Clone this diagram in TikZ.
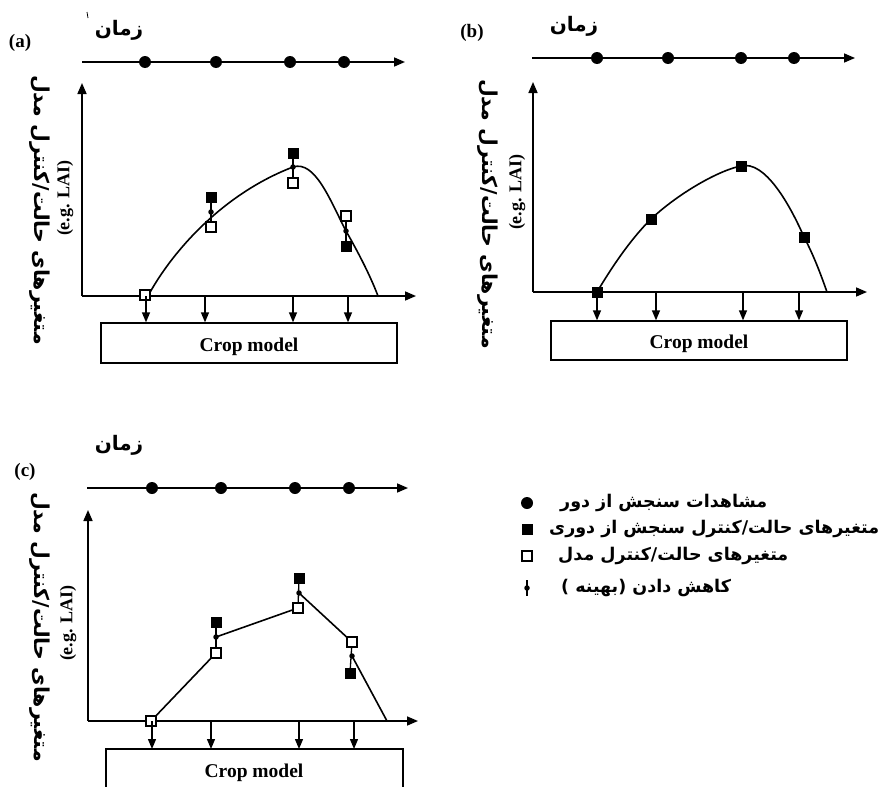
\documentclass[tikz,border=0pt]{standalone}
\usepackage{fontspec}
\setmainfont{Liberation Serif}
\newfontfamily\fa[Script=Arabic]{DejaVu Sans}
\TeXXeTstate=1
\usetikzlibrary{arrows.meta}
\begin{document}
\begin{tikzpicture}[x=1pt,y=-1pt,
  ax/.style={line width=1.6pt, -{Triangle[length=11pt,width=9pt]}},
  dn/.style={line width=1.3pt, -{Triangle[length=10pt,width=8pt]}},
  crv/.style={line width=1.6pt},
  obs/.style={circle, fill=black, inner sep=0pt, minimum size=12pt},
  fsq/.style={rectangle, fill=black, inner sep=0pt, minimum size=11pt},
  osq/.style={rectangle, draw=black, fill=white, line width=1.1pt, inner sep=0pt, minimum size=10pt},
  sdot/.style={circle, fill=black, inner sep=0pt, minimum size=5.5pt},
  ebar/.style={line width=1.3pt},
  cbox/.style={draw, line width=1.3pt, inner sep=0pt},
  cmtxt/.style={font=\bfseries\fontsize{19.5}{19.5}\selectfont},
  plab/.style={font=\bfseries\fontsize{19}{19}\selectfont},
  ylab/.style={font=\fa\bfseries\fontsize{20.5}{20.5}\selectfont, rotate=-90},
  eg/.style={font=\bfseries\fontsize{18}{18}\selectfont, rotate=90},
  tlab/.style={font=\fa\bfseries\fontsize{20}{20}\selectfont},
  leg/.style={font=\fa\bfseries\fontsize{17.5}{17.5}\selectfont, anchor=west, inner sep=0pt},
]
\useasboundingbox (0,0) rectangle (887,787);

% ================= Panel (a) =================
\node[plab] (pa) at (20,43) {(a)};
\node[tlab] (ta) at (119,30) {\beginR زمان\endR};
\draw[line width=0.8pt] (87,12) -- (88,18);
\coordinate (aT0) at (82,62);  \coordinate (aT1) at (405,62);
\draw[ax] (aT0) -- (aT1);
\foreach \x [count=\i] in {145,216,290,344} \node[obs] (aO\i) at (\x,62) {};
\coordinate (aO) at (82,296); \coordinate (aY) at (82,83); \coordinate (aX) at (416,296);
\draw[ax] (aO) -- (aY);
\draw[ax] (aO) -- (aX);
\node[ylab] (ayl) at (40,210) {\beginR متغیرهای حالت/کنترل مدل\endR};
\node[eg] (aeg) at (65,198) {(e.g. LAI)};
\coordinate (ac0) at (148,296); \coordinate (ac1) at (211,212); \coordinate (ac2) at (293,167);
\coordinate (ac3) at (346,231); \coordinate (ac4) at (378,296);
\draw[crv] (ac0) .. controls (170,255) and (220,195) .. (ac2)
  .. controls (315,160) and (330,200) .. (ac3) .. controls (358,252) and (370,275) .. (ac4);
\draw[ebar] (211,197) -- (211,227);
\draw[ebar] (293,153) -- (293,183);
\draw[ebar] (346,216) -- (346,246);
\node[fsq] (af1) at (211,197) {}; \node[osq] (ao1) at (211,227) {};
\node[fsq] (af2) at (293,153) {}; \node[osq] (ao2) at (293,183) {};
\node[osq] (ao3) at (346,216) {}; \node[fsq] (af3) at (346,246) {};
\node[sdot] at (ac1) {}; \node[sdot] at (ac2) {}; \node[sdot] at (ac3) {};
\node[osq] (ao0) at (145,295) {};
\node[cbox, minimum width=296pt, minimum height=40pt] (boxa) at (249,343) {};
\node[cmtxt] (cma) at (249,347) {Crop model};
\foreach \x in {146,205,293,348} \draw[dn] (\x,296) -- (\x,0 |- boxa.north);

% ================= Panel (b) =================
\node[plab] (pb) at (472,33) {(b)};
\node[tlab] (tb) at (574,26) {\beginR زمان\endR};
\coordinate (bT0) at (532,58);  \coordinate (bT1) at (855,58);
\draw[ax] (bT0) -- (bT1);
\foreach \x [count=\i] in {597,668,741,794} \node[obs] (bO\i) at (\x,58) {};
\coordinate (bO) at (533,292); \coordinate (bY) at (533,82); \coordinate (bX) at (867,292);
\draw[ax] (bO) -- (bY);
\draw[ax] (bO) -- (bX);
\node[ylab] (byl) at (488,214) {\beginR متغیرهای حالت/کنترل مدل\endR};
\node[eg] (beg) at (517,192) {(e.g. LAI)};
\coordinate (bc0) at (597,292); \coordinate (bc1) at (651,219); \coordinate (bc2) at (741,166);
\coordinate (bc3) at (804,237); \coordinate (bc4) at (827,292);
\draw[crv] (bc0) .. controls (615,262) and (632,238) .. (bc1)
  .. controls (680,192) and (720,170) .. (bc2)
  .. controls (765,160) and (790,205) .. (bc3) .. controls (815,258) and (822,278) .. (bc4);
\foreach \c [count=\i] in {bc0,bc1,bc2,bc3} \node[fsq] (bf\i) at (\c) {};
\node[cbox, minimum width=296pt, minimum height=39pt] (boxb) at (699,340.5) {};
\node[cmtxt] (cmb) at (699,344) {Crop model};
\foreach \x in {597,656,743,799} \draw[dn] (\x,292) -- (\x,0 |- boxb.north);

% ================= Panel (c) =================
\node[plab] (pc) at (25,472) {(c)};
\node[tlab] (tc) at (119,445) {\beginR زمان\endR};
\coordinate (cT0) at (87,488);  \coordinate (cT1) at (408,488);
\draw[ax] (cT0) -- (cT1);
\foreach \x [count=\i] in {152,221,295,349} \node[obs] (cO\i) at (\x,488) {};
\coordinate (cO) at (88,721); \coordinate (cY) at (88,510); \coordinate (cX) at (418,721);
\draw[ax] (cO) -- (cY);
\draw[ax] (cO) -- (cX);
\node[ylab] (cyl) at (40,627) {\beginR متغیرهای حالت/کنترل مدل\endR};
\node[eg] (ceg) at (68,623) {(e.g. LAI)};
\coordinate (cc0) at (151,721);
\coordinate (cm1) at (216,653); \coordinate (cd1) at (216,637); \coordinate (cf1) at (216,622);
\coordinate (cm2) at (298,608); \coordinate (cd2) at (299,593); \coordinate (cf2) at (299,578);
\coordinate (cm3) at (352,642); \coordinate (cd3) at (352,656); \coordinate (cf3) at (350,673);
\coordinate (cend) at (387,721);
\draw[crv] (cc0) -- (cm1);
\draw[crv] (cd1) -- (cm2);
\draw[crv] (cd2) -- (cm3);
\draw[crv] (cd3) -- (cend);
\draw[ebar] (cf1) -- (cm1);
\draw[ebar] (cf2) -- (cm2);
\draw[ebar] (cm3) -- (cf3);
\node[fsq] (cF1) at (cf1) {}; \node[osq] (cM1) at (cm1) {};
\node[fsq] (cF2) at (cf2) {}; \node[osq] (cM2) at (cm2) {};
\node[osq] (cM3) at (cm3) {}; \node[fsq] (cF3) at (cf3) {};
\node[sdot] at (cd1) {}; \node[sdot] at (cd2) {}; \node[sdot] at (cd3) {};
\node[osq] (cM0) at (cc0) {};
\coordinate (boxcL) at (106,749); \coordinate (boxcR) at (403,749);
\draw[line width=1.3pt] (106,790) -- (boxcL) -- (boxcR) -- (403,790);
\node[cmtxt] (cmc) at (254,773) {Crop model};
\foreach \x in {152,211,299,354} \draw[dn] (\x,721) -- (\x,0 |- boxcL);

% ================= Legend =================
\node[obs] (l1) at (527,503) {};
\node[leg] (lt1) at (560,503) {\beginR مشاهدات سنجش از دور\endR};
\node[fsq] (l2) at (527,529) {};
\node[leg] (lt2) at (549,529) {\beginR متغیرهای حالت/کنترل سنجش از دوری\endR};
\node[osq] (l3) at (527,556) {};
\node[leg] (lt3) at (558,556) {\beginR متغیرهای حالت/کنترل مدل\endR};
\coordinate (l4a) at (527,580); \coordinate (l4b) at (527,596);
\draw[ebar] (l4a) -- (l4b);
\node[sdot] (l4) at (527,588) {};
\node[leg] (lt4) at (561,588) {\beginR کاهش دادن (بهینه )\endR};
\end{tikzpicture}
\end{document}
